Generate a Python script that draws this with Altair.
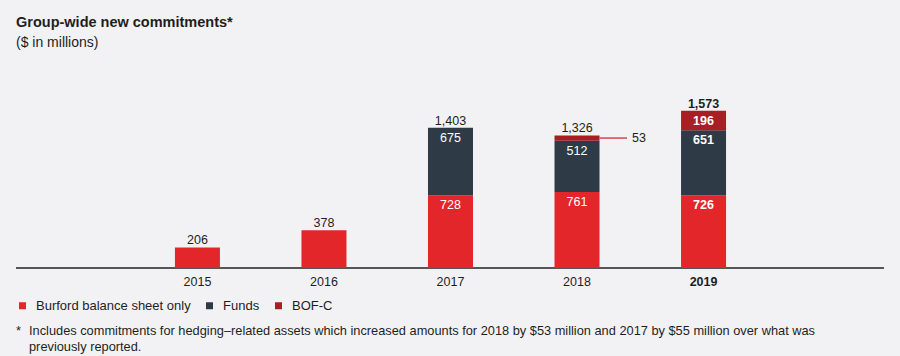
import altair as alt
import pandas as pd

years = ["2015", "2016", "2017", "2018", "2019"]
balance_sheet = [206, 378, 728, 761, 726]
funds = [0, 0, 675, 512, 651]
bofc = [0, 0, 0, 53, 196]

series_names = ["Burford balance sheet only", "Funds", "BOF-C"]
series_colors = ["#e3262a", "#2e3b47", "#a71e25"]

title_text = "Group-wide new commitments*"
subtitle_text = "($ in millions)"
footnote_lines = [
    "Includes commitments for hedging\u2013related assets which increased amounts for 2018 by $53 million and 2017 by $55 million over what was",
    "previously reported.",
]

FONT = "Liberation Sans"
TEXT = "#1e1e1e"
BG = "#f2f2f4"

rows = []
for i, y in enumerate(years):
    vals = [balance_sheet[i], funds[i], bofc[i]]
    nseg = sum(1 for v in vals if v > 0)
    cum = 0
    for k, (name, v) in enumerate(zip(series_names, vals)):
        if v > 0:
            rows.append({
                "year": y,
                "yr": int(y),
                "series": name,
                "order": k,
                "value": v,
                "y0": cum,
                "y1": cum + v,
                "inner": int(nseg > 1 and v >= 100),
                "bold": int(y == "2019"),
            })
            cum += v
df = pd.DataFrame(rows)

x_scale = alt.Scale(domain=[2013.6055, 2020.3867], nice=False, zero=False)
y_scale = alt.Scale(domain=[0, 2000], nice=False)
xs = alt.X("yr:Q", scale=x_scale, axis=None)


def ys(field):
    return alt.Y(field, scale=y_scale, axis=None)


base = alt.Chart(df)

bars = base.mark_bar(size=45).encode(
    x=xs,
    y=ys("y0:Q"),
    y2="y1:Q",
    color=alt.Color(
        "series:N",
        scale=alt.Scale(domain=series_names, range=series_colors),
        legend=alt.Legend(
            title=None,
            orient="none",
            legendX=0,
            legendY=231,
            direction="horizontal",
            symbolType="square",
            symbolSize=49,
            symbolStrokeWidth=0,
            labelFontSize=13,
            labelFont=FONT,
            labelColor=TEXT,
            labelOffset=7,
            columnPadding=12,
        ),
    ),
)

baseline = alt.Chart(pd.DataFrame({"zero": [0]})).mark_rule(
    color="#222222", strokeWidth=1.6
).encode(y=ys("zero:Q"))

inner_norm = base.transform_filter("datum.inner == 1 && datum.bold == 0").mark_text(
    color="white", fontSize=12.5, font=FONT, baseline="middle", dy=10
).encode(x=xs, y=ys("y1:Q"), text="value:Q")

inner_bold = base.transform_filter("datum.inner == 1 && datum.bold == 1").mark_text(
    color="white", fontSize=12.5, font=FONT, baseline="middle", dy=10, fontWeight="bold"
).encode(x=xs, y=ys("y1:Q"), text="value:Q")

small = base.transform_filter("datum.series == 'BOF-C' && datum.value < 100").transform_calculate(
    mid="(datum.y0 + datum.y1) / 2"
)
leader = small.mark_rule(
    color="#d4444c", strokeWidth=1.5, xOffset=22.5, x2Offset=50
).encode(x=xs, x2="yr:Q", y=ys("mid:Q"))
small_label = small.mark_text(
    color=TEXT, fontSize=12.5, font=FONT, align="left", baseline="middle", dx=55
).encode(x=xs, y=ys("mid:Q"), text="value:Q")

totals = base.transform_aggregate(total="sum(value)", groupby=["yr"])
tot_norm = totals.transform_filter("datum.yr != 2019").mark_text(
    color=TEXT, fontSize=12.5, font=FONT, baseline="alphabetic", dy=-3
).encode(x=xs, y=ys("total:Q"), text=alt.Text("total:Q", format=","))
tot_bold = totals.transform_filter("datum.yr == 2019").mark_text(
    color=TEXT, fontSize=12.5, font=FONT, baseline="alphabetic", dy=-3, fontWeight="bold"
).encode(x=xs, y=ys("total:Q"), text=alt.Text("total:Q", format=","))

year_df = pd.DataFrame({"year": years, "yr": [int(v) for v in years]})
ylab_norm = alt.Chart(year_df).transform_filter("datum.yr != 2019").mark_text(
    color=TEXT, fontSize=12.5, font=FONT, baseline="top", dy=8
).encode(x=xs, y=alt.value(200), text="year:N")
ylab_bold = alt.Chart(year_df).transform_filter("datum.yr == 2019").mark_text(
    color=TEXT, fontSize=12.5, font=FONT, baseline="top", dy=8, fontWeight="bold"
).encode(x=xs, y=alt.value(200), text="year:N")


def label(txt, x, y, size=12, weight="normal", align="left"):
    return alt.Chart(pd.DataFrame({"t": [txt]})).mark_text(
        fontSize=size, fontWeight=weight, font=FONT, color=TEXT, align=align, baseline="alphabetic"
    ).encode(x=alt.value(x), y=alt.value(y), text="t:N")


title_mark = label(title_text, 0, -41, size=14.5, weight="bold")
subtitle_mark = label(subtitle_text, 0, -21, size=14)
star = label("*", 2.5, 267, size=12.8, align="center")
foot1 = label(footnote_lines[0], 13, 267, size=12.8)
foot2 = label(footnote_lines[1], 13, 283, size=12.8)

chart = alt.layer(
    baseline, bars, inner_norm, inner_bold, leader, small_label, tot_norm, tot_bold,
    ylab_norm, ylab_bold, title_mark, subtitle_mark, star, foot1, foot2,
).properties(
    width=868,
    height=200,
    background=BG,
    padding={"left": 16, "top": 68, "right": 16, "bottom": 88},
    autosize=alt.AutoSizeParams(type="none"),
).configure_view(stroke=None)

chart.save("out.html", embed_options={"renderer": "svg", "actions": False})
